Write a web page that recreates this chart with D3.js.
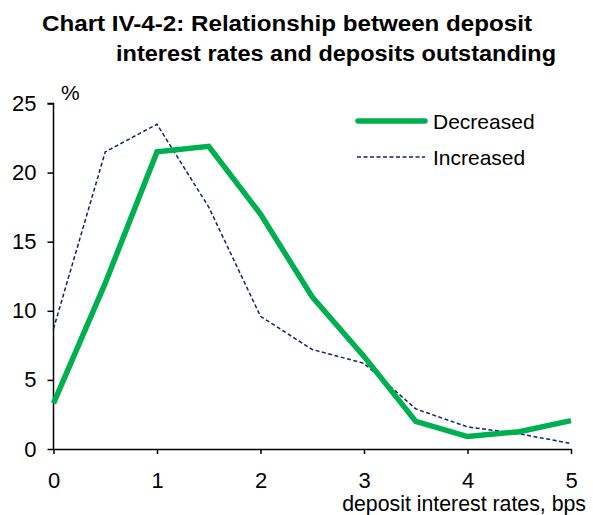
<!DOCTYPE html>
<html><head><meta charset="utf-8">
<script src="https://cdn.jsdelivr.net/npm/d3@7"></script>
<style>body{margin:0;background:#fff;} svg{display:block;font-family:"Liberation Sans",Arial,sans-serif;}</style>
</head><body>
<svg id="c" width="593" height="515"></svg>
<script>
const rates = [0,0.5,1,1.5,2,2.5,3,3.5,4,4.5,5];
const decreased = [3.3,12.0,21.5,21.9,17.0,11.0,6.7,2.0,0.9,1.25,2.05];
const increased = [8.7,21.5,23.5,17.5,9.6,7.2,6.2,2.9,1.6,1.1,0.4];
const xTicks = [0,1,2,3,4,5];
const yTicks = [0,5,10,15,20,25];
const seriesNames = ["Decreased","Increased"];

const svg = d3.select("#c");
const x = d3.scaleLinear().domain([0,5]).range([53.5,571]);
const y = d3.scaleLinear().domain([0,25]).range([449,103.5]);

svg.append("text").attr("x",42).attr("y",31).attr("font-size",22.5).attr("font-weight","bold")
  .attr("textLength",490).attr("lengthAdjust","spacingAndGlyphs").text("Chart IV-4-2: Relationship between deposit");
svg.append("text").attr("x",116).attr("y",61).attr("font-size",22.5).attr("font-weight","bold")
  .attr("textLength",440).attr("lengthAdjust","spacingAndGlyphs").text("interest rates and deposits outstanding");

const ya = svg.append("g").attr("transform","translate(53.5,0)")
  .call(d3.axisLeft(y).tickValues(yTicks).tickSize(6).tickPadding(11).tickFormat(d3.format("d")));
const xa = svg.append("g").attr("transform","translate(0,449)")
  .call(d3.axisBottom(x).tickValues(xTicks).tickSizeInner(5).tickSizeOuter(0).tickPadding(18.5).tickFormat(d3.format("d")));
[ya,xa].forEach(a=>{
  a.selectAll("path,line").attr("stroke","#000").attr("stroke-width",1.5);
  a.selectAll("text").attr("font-size",22).attr("fill","#000").attr("font-family","Liberation Sans, Arial, sans-serif");
});
ya.select("path").attr("d","M0,449V103.5H-6");

svg.append("text").attr("x",61).attr("y",100).attr("font-size",21).text("%");
svg.append("text").attr("x",586).attr("y",511).attr("text-anchor","end").attr("font-size",21.3).text("deposit interest rates, bps");

const line = d3.line().x((d,i)=>x(rates[i])).y(d=>y(d));
svg.append("path").datum(increased).attr("d",line).attr("fill","none")
  .attr("stroke","#0C2766").attr("stroke-width",1.5).attr("stroke-dasharray","4,2.5");
svg.append("path").datum(decreased).attr("d",line).attr("fill","none")
  .attr("stroke","#00B050").attr("stroke-width",5.5).attr("stroke-linejoin","miter");

const leg = svg.append("g");
leg.append("line").attr("x1",358).attr("x2",425).attr("y1",121).attr("y2",121)
  .attr("stroke","#00B050").attr("stroke-width",5.5).attr("stroke-linecap","round");
leg.append("line").attr("x1",357).attr("x2",425).attr("y1",157).attr("y2",157)
  .attr("stroke","#0C2766").attr("stroke-width",1.5).attr("stroke-dasharray","4,2.5");
leg.append("text").attr("x",433).attr("y",128.5).attr("font-size",21).text(seriesNames[0]);
leg.append("text").attr("x",433).attr("y",165).attr("font-size",21).text(seriesNames[1]);
</script>
</body></html>
